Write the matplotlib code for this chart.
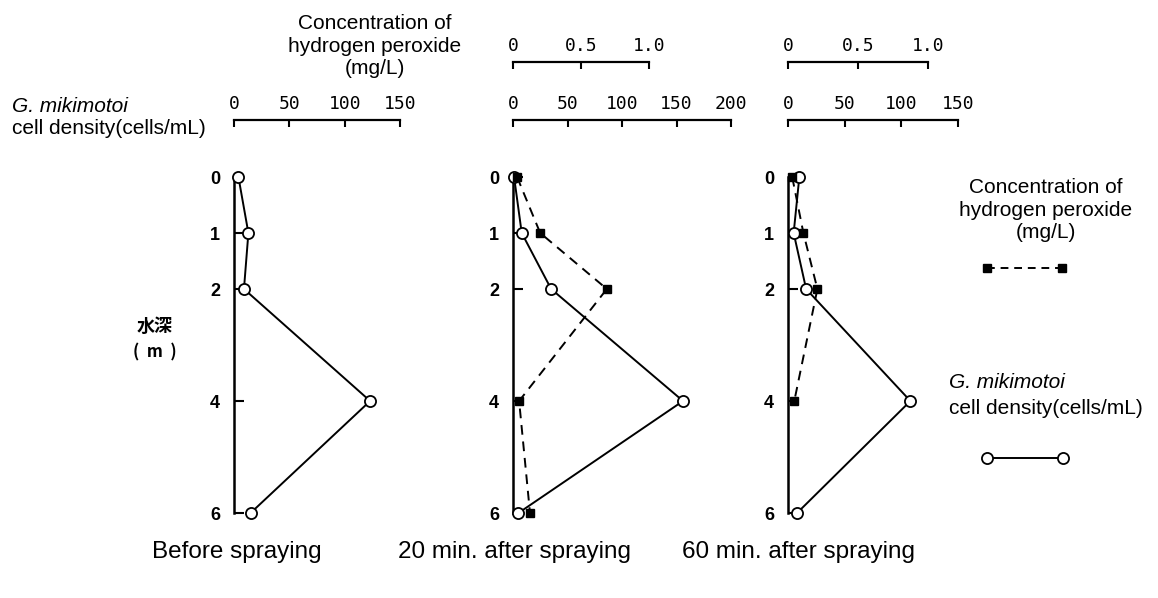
import matplotlib.pyplot as plt
from matplotlib.lines import Line2D

plt.rcParams['font.family'] = ['Liberation Sans', 'DejaVu Sans']

# water depth (m) of the sampling points
depth = [0, 1, 2, 4, 6]

# G. mikimotoi cell density (cells/mL)
cells_before = [4, 13, 9, 123, 15]
cells_20min = [1, 8, 35, 156, 5]
cells_60min = [10, 5, 16, 108, 8]

# hydrogen peroxide concentration (mg/L)
h2o2_20min = [0.03, 0.2, 0.69, 0.045, 0.125]
depth_h2o2_60 = [0, 1, 2, 4]
h2o2_60min = [0.03, 0.11, 0.21, 0.045]

captions = ['Before spraying', '20 min. after spraying', '60 min. after spraying']
cell_ticks = [[0, 50, 100, 150], [0, 50, 100, 150, 200], [0, 50, 100, 150]]
h2o2_ticks = [0, 0.5, 1.0]
h2o2_ticklabels = ['0', '0.5', '1.0']

W, H = 1158, 598
fig = plt.figure(figsize=(W / 100, H / 100), dpi=100)

# panel geometry in pixels: left edge, width, max of cell scale, max of h2o2 scale
panels = [(234, 166, 150, None), (513, 218, 200, 218 / 136), (788, 170, 150, 170 / 140)]
y_top, y_bot = 177, 513

mono = 'DejaVu Sans Mono'
lw_axis = 1.8
lw_data = 1.4


def depth_axes(ax):
    ax.set_ylim(6, 0)
    for s in ['right', 'bottom']:
        ax.spines[s].set_visible(False)
    ax.spines['left'].set_linewidth(lw_axis)
    ax.set_yticks(depth)
    ax.tick_params(axis='y', direction='in', length=7, width=1.5, pad=10)
    for t in ax.get_yticklabels():
        t.set_fontweight('bold')
        t.set_fontsize(13)


def top_scale(ax, ticks, labels, offset):
    ax.xaxis.tick_top()
    ax.spines['top'].set_position(('outward', offset))
    ax.spines['top'].set_bounds(ticks[0], ticks[-1])
    ax.spines['top'].set_linewidth(1.6)
    ax.set_xticks(ticks)
    ax.set_xticklabels(labels, family=mono, fontsize=13)
    ax.tick_params(axis='x', direction='in', length=5, width=1.5, pad=5)
    ax.patch.set_visible(False)


for i, (left, width, cmax, hmax) in enumerate(panels):
    rect = [left / W, 1 - y_bot / H, width / W, (y_bot - y_top) / H]
    ax = fig.add_axes(rect)
    ax.set_xlim(0, cmax)
    depth_axes(ax)
    top_scale(ax, cell_ticks[i], [str(t) for t in cell_ticks[i]], 41)

    cells = [cells_before, cells_20min, cells_60min][i]
    ax.plot(cells, depth, '-', color='black', lw=lw_data, marker='o', ms=8,
            mfc='white', mec='black', mew=1.3, clip_on=False, zorder=3)

    # second scale for hydrogen peroxide, drawn above the cell scale
    if hmax is not None:
        ax2 = fig.add_axes(rect)
        ax2.set_xlim(0, hmax)
        ax2.set_ylim(6, 0)
        for s in ['left', 'right', 'bottom']:
            ax2.spines[s].set_visible(False)
        ax2.set_yticks([])
        top_scale(ax2, h2o2_ticks, h2o2_ticklabels, 83)
        hx = h2o2_20min if i == 1 else h2o2_60min
        hy = depth if i == 1 else depth_h2o2_60
        ax2.plot(hx, hy, color='black', lw=lw_data, dashes=(5, 3.5), marker='s',
                 ms=6, mfc='black', mec='black', clip_on=False, zorder=4)

# captions under each panel
for cx, txt in zip([237, 514, 798], captions):
    fig.text(cx / W, 1 - 552 / H, txt, ha='center', va='center', fontsize=17.5)

# scale titles on the upper left
fig.text(375 / W, 1 - 46 / H, 'Concentration of\nhydrogen peroxide\n(mg/L)',
         ha='center', va='center', fontsize=15, linespacing=1.25)
fig.text(12 / W, 1 - 107 / H, 'G. mikimotoi', ha='left', va='center',
         fontsize=15, style='italic')
fig.text(12 / W, 1 - 128 / H, 'cell density(cells/mL)', ha='left', va='center', fontsize=15)

# depth label
cjk = ['Noto Sans CJK JP', 'DejaVu Sans']
fig.text(155 / W, 1 - 326 / H, '水深', ha='center', va='center', fontsize=13,
         family=cjk, fontweight='bold')
fig.text(155 / W, 1 - 352 / H, '(  m  )', ha='center', va='center', fontsize=12,
         family=cjk, fontweight='bold')

# key on the right
fig.text(1046 / W, 1 - 210 / H, 'Concentration of\nhydrogen peroxide\n(mg/L)',
         ha='center', va='center', fontsize=15, linespacing=1.25)
fig.add_artist(Line2D([987 / W, 1062 / W], [1 - 268 / H, 1 - 268 / H], color='black',
                      lw=lw_data, dashes=(4, 3), marker='s', ms=6, mfc='black'))
fig.text(949 / W, 1 - 382 / H, 'G. mikimotoi', ha='left', va='center',
         fontsize=15, style='italic')
fig.text(949 / W, 1 - 408 / H, 'cell density(cells/mL)', ha='left', va='center', fontsize=15)
fig.add_artist(Line2D([987 / W, 1063 / W], [1 - 458 / H, 1 - 458 / H], color='black',
                      lw=lw_data, marker='o', ms=8, mfc='white', mec='black', mew=1.3))

fig.savefig('out.png', dpi=100)
